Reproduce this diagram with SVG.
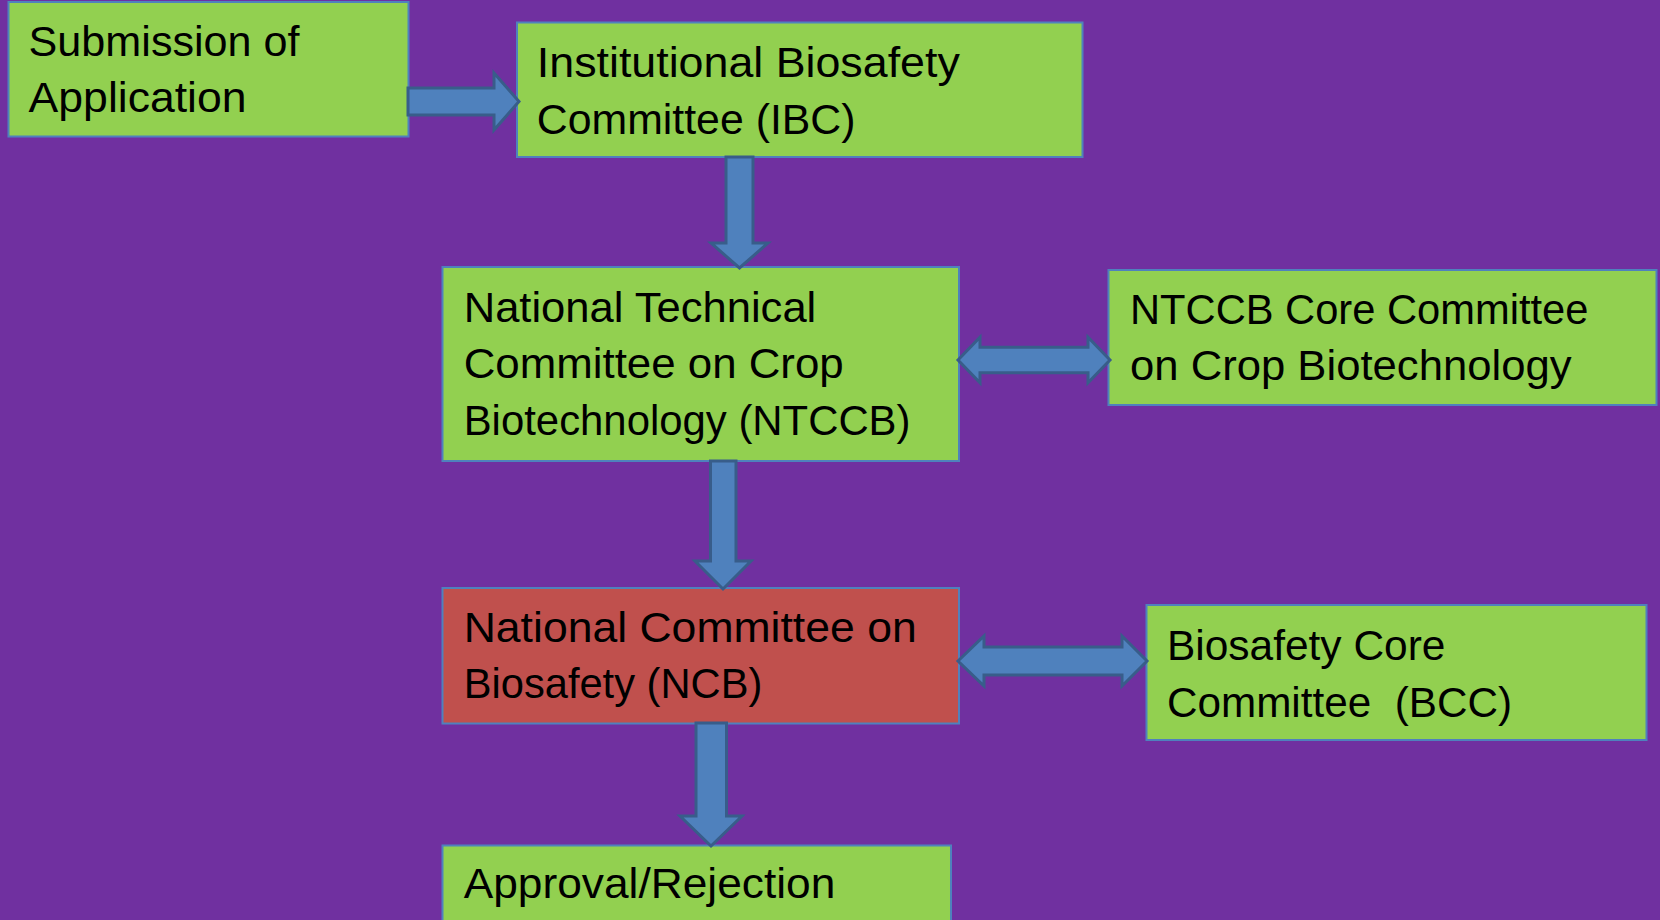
<svg xmlns="http://www.w3.org/2000/svg" width="1660" height="920" viewBox="0 0 1660 920">
<style>
.box{stroke:#4f81bd;stroke-width:2}
.g{fill:#92d050}
.r{fill:#c0504d}
.t{font-family:"Liberation Sans",Arial,sans-serif;font-size:43px;fill:#000;white-space:pre}
.arr{fill:#4f81bd;stroke:#385d8a;stroke-width:3;stroke-linejoin:miter}
</style>
<rect x="0" y="0" width="1660" height="920" fill="#7030a0"/>
<g id="submission">
<rect class="box g" x="8.5" y="2" width="400" height="134.5"/>
<text class="t" x="28.6" y="56" textLength="271" lengthAdjust="spacingAndGlyphs">Submission of</text>
<text class="t" x="28.6" y="112" textLength="218" lengthAdjust="spacingAndGlyphs">Application</text>
</g>
<g id="ibc">
<rect class="box g" x="517" y="22.5" width="565.5" height="134.5"/>
<text class="t" x="536.8" y="76.5" textLength="423" lengthAdjust="spacingAndGlyphs">Institutional Biosafety</text>
<text class="t" x="536.8" y="133.5" textLength="318.7" lengthAdjust="spacingAndGlyphs">Committee (IBC)</text>
</g>
<g id="ntccb">
<rect class="box g" x="442.5" y="267" width="516.5" height="194"/>
<text class="t" x="463.7" y="321.5" textLength="352.6" lengthAdjust="spacingAndGlyphs">National Technical</text>
<text class="t" x="463.7" y="378" textLength="380" lengthAdjust="spacingAndGlyphs">Committee on Crop</text>
<text class="t" x="463.7" y="435" textLength="446.8" lengthAdjust="spacingAndGlyphs">Biotechnology (NTCCB)</text>
</g>
<g id="ntccb-core">
<rect class="box g" x="1108.5" y="270" width="548" height="135"/>
<text class="t" x="1130" y="324" textLength="458.4" lengthAdjust="spacingAndGlyphs">NTCCB Core Committee</text>
<text class="t" x="1130" y="380" textLength="441.5" lengthAdjust="spacingAndGlyphs">on Crop Biotechnology</text>
</g>
<g id="ncb">
<rect class="box r" x="442.5" y="588" width="516.5" height="135.5"/>
<text class="t" x="463.7" y="641.5" textLength="453" lengthAdjust="spacingAndGlyphs">National Committee on</text>
<text class="t" x="463.7" y="698" textLength="298.6" lengthAdjust="spacingAndGlyphs">Biosafety (NCB)</text>
</g>
<g id="bcc">
<rect class="box g" x="1146.5" y="605" width="500" height="135"/>
<text class="t" x="1167" y="660" textLength="278.4" lengthAdjust="spacingAndGlyphs">Biosafety Core</text>
<text class="t" x="1167" y="716.5" textLength="345" lengthAdjust="spacingAndGlyphs">Committee  (BCC)</text>
</g>
<g id="approval">
<rect class="box g" x="442.5" y="845.5" width="508.5" height="100"/>
<text class="t" x="463.7" y="898" textLength="371.6" lengthAdjust="spacingAndGlyphs">Approval/Rejection</text>
</g>
<g id="connectors">
<polygon class="arr" points="408,88 494,88 494,73 519,101.5 494,130 494,115 408,115"/>
<polygon class="arr" points="726,157 753,157 753,243 768,243 739.5,268 711,243 726,243"/>
<polygon class="arr" points="710.5,461 736,461 736,561 751,561 723,589 695,561 710.5,561"/>
<polygon class="arr" points="696,723 726.5,723 726.5,816 742,816 711,846 680,816 696,816"/>
<polygon class="arr" points="958,360 980,337.3 980,347.3 1088,347.3 1088,337.3 1110,360 1088,382.7 1088,372.7 980,372.7 980,382.7"/>
<polygon class="arr" points="958,661 984,636 984,647 1122,647 1122,636 1147,661 1122,686 1122,675 984,675 984,686"/>
</g>
</svg>
